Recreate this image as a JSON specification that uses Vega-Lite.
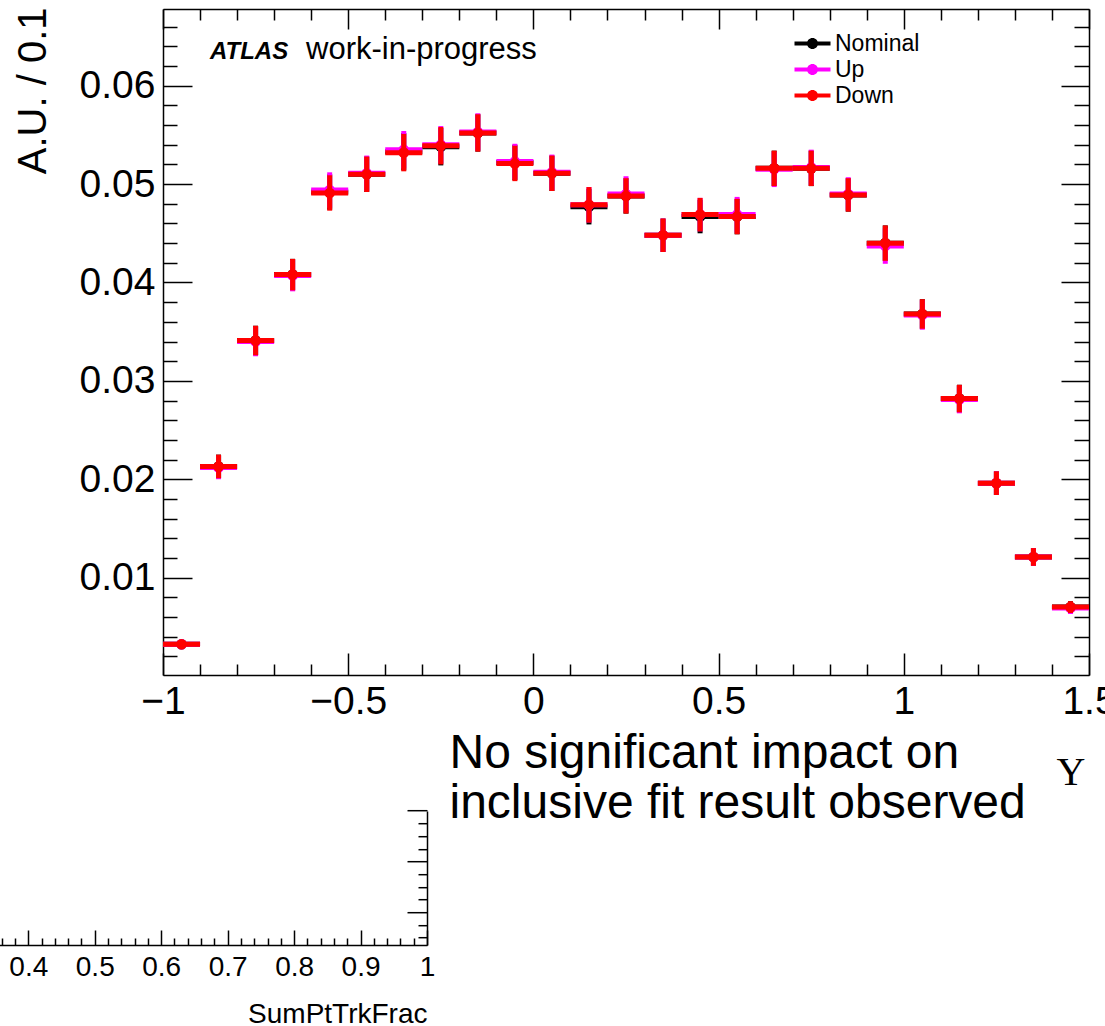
{
  "$schema": "https://vega.github.io/schema/vega-lite/v6.json",
  "width": 926,
  "height": 666,
  "autosize": {"type": "none"},
  "padding": {"left": 163, "top": 9, "right": 16, "bottom": 351},
  "background": "white",
  "config": {
    "view": {"stroke": null},
    "font": "Liberation Sans",
    "axis": {"grid": false, "domainColor": "#000", "tickColor": "#000", "domainWidth": 1.5, "tickWidth": 1.5, "labelColor": "#000", "titleColor": "#000", "labelFont": "Liberation Sans", "titleFont": "Liberation Sans", "labelFlush": false, "labelOverlap": false, "titleFontWeight": "normal"}
  },
  "datasets": {
    "h": [
      {"lo": -1.0, "hi": -0.9, "c": -0.95, "n": 0.00322, "u": 0.00322, "d": 0.00322, "e": 0.0004},
      {"lo": -0.9, "hi": -0.8, "c": -0.85, "n": 0.0213, "u": 0.0212, "d": 0.0213, "e": 0.0012},
      {"lo": -0.8, "hi": -0.7, "c": -0.75, "n": 0.0341, "u": 0.0340, "d": 0.0341, "e": 0.0015},
      {"lo": -0.7, "hi": -0.6, "c": -0.65, "n": 0.0408, "u": 0.0407, "d": 0.0408, "e": 0.0016},
      {"lo": -0.6, "hi": -0.5, "c": -0.55, "n": 0.0492, "u": 0.0494, "d": 0.0491, "e": 0.0018},
      {"lo": -0.5, "hi": -0.4, "c": -0.45, "n": 0.0510, "u": 0.0511, "d": 0.0510, "e": 0.0018},
      {"lo": -0.4, "hi": -0.3, "c": -0.35, "n": 0.0533, "u": 0.0535, "d": 0.0532, "e": 0.0019},
      {"lo": -0.3, "hi": -0.2, "c": -0.25, "n": 0.0538, "u": 0.0540, "d": 0.0539, "e": 0.0019},
      {"lo": -0.2, "hi": -0.1, "c": -0.15, "n": 0.0552, "u": 0.0553, "d": 0.0552, "e": 0.0019},
      {"lo": -0.1, "hi": 0.0, "c": -0.05, "n": 0.0522, "u": 0.0523, "d": 0.0521, "e": 0.0018},
      {"lo": 0.0, "hi": 0.1, "c": 0.05, "n": 0.0511, "u": 0.0512, "d": 0.0511, "e": 0.0018},
      {"lo": 0.1, "hi": 0.2, "c": 0.15, "n": 0.0477, "u": 0.0479, "d": 0.0479, "e": 0.0018},
      {"lo": 0.2, "hi": 0.3, "c": 0.25, "n": 0.0488, "u": 0.0490, "d": 0.0488, "e": 0.0018},
      {"lo": 0.3, "hi": 0.4, "c": 0.35, "n": 0.0448, "u": 0.0448, "d": 0.0448, "e": 0.0017},
      {"lo": 0.4, "hi": 0.5, "c": 0.45, "n": 0.0467, "u": 0.0469, "d": 0.0469, "e": 0.0017},
      {"lo": 0.5, "hi": 0.6, "c": 0.55, "n": 0.0467, "u": 0.0469, "d": 0.0467, "e": 0.0018},
      {"lo": 0.6, "hi": 0.7, "c": 0.65, "n": 0.0516, "u": 0.0515, "d": 0.0516, "e": 0.0018},
      {"lo": 0.7, "hi": 0.8, "c": 0.75, "n": 0.0516, "u": 0.0517, "d": 0.0516, "e": 0.0018},
      {"lo": 0.8, "hi": 0.9, "c": 0.85, "n": 0.0489, "u": 0.0490, "d": 0.0489, "e": 0.0017},
      {"lo": 0.9, "hi": 1.0, "c": 0.95, "n": 0.0440, "u": 0.0437, "d": 0.0440, "e": 0.0018},
      {"lo": 1.0, "hi": 1.1, "c": 1.05, "n": 0.0368, "u": 0.0367, "d": 0.0368, "e": 0.0015},
      {"lo": 1.1, "hi": 1.2, "c": 1.15, "n": 0.0282, "u": 0.0281, "d": 0.0282, "e": 0.0014},
      {"lo": 1.2, "hi": 1.3, "c": 1.25, "n": 0.0196, "u": 0.0196, "d": 0.0196, "e": 0.0012},
      {"lo": 1.3, "hi": 1.4, "c": 1.35, "n": 0.0121, "u": 0.0121, "d": 0.0121, "e": 0.0009},
      {"lo": 1.4, "hi": 1.5, "c": 1.45, "n": 0.0070, "u": 0.0069, "d": 0.0070, "e": 0.0006}
    ]
  },
  "layer": [
    {"data": {"name": "h"}, "mark": {"type": "rule", "color": "#000000", "strokeWidth": 5}, "encoding": {"x": {"field": "lo", "type": "quantitative", "scale": {"domain": [-1, 1.5], "nice": false, "zero": false}, "axis": null}, "x2": {"field": "hi"}, "y": {"field": "n", "type": "quantitative", "scale": {"domain": [0.0001, 0.0678], "nice": false, "zero": false}, "axis": null}}},
    {"data": {"name": "h"}, "mark": {"type": "errorbar", "color": "#000000", "thickness": 5}, "encoding": {"x": {"field": "c", "type": "quantitative", "scale": {"domain": [-1, 1.5], "nice": false, "zero": false}, "axis": null}, "y": {"field": "n", "type": "quantitative", "scale": {"domain": [0.0001, 0.0678], "nice": false, "zero": false}, "axis": null}, "yError": {"field": "e"}}},
    {"data": {"name": "h"}, "mark": {"type": "point", "shape": "circle", "filled": true, "size": 113, "color": "#000000", "opacity": 1}, "encoding": {"x": {"field": "c", "type": "quantitative", "scale": {"domain": [-1, 1.5], "nice": false, "zero": false}, "axis": null}, "y": {"field": "n", "type": "quantitative", "scale": {"domain": [0.0001, 0.0678], "nice": false, "zero": false}, "axis": null}}},

    {"data": {"name": "h"}, "mark": {"type": "rule", "color": "#ff00ff", "strokeWidth": 5}, "encoding": {"x": {"field": "lo", "type": "quantitative", "scale": {"domain": [-1, 1.5], "nice": false, "zero": false}, "axis": null}, "x2": {"field": "hi"}, "y": {"field": "u", "type": "quantitative", "scale": {"domain": [0.0001, 0.0678], "nice": false, "zero": false}, "axis": null}}},
    {"data": {"name": "h"}, "mark": {"type": "errorbar", "color": "#ff00ff", "thickness": 5}, "encoding": {"x": {"field": "c", "type": "quantitative", "scale": {"domain": [-1, 1.5], "nice": false, "zero": false}, "axis": null}, "y": {"field": "u", "type": "quantitative", "scale": {"domain": [0.0001, 0.0678], "nice": false, "zero": false}, "axis": null}, "yError": {"field": "e"}}},
    {"data": {"name": "h"}, "mark": {"type": "point", "shape": "circle", "filled": true, "size": 113, "color": "#ff00ff", "opacity": 1}, "encoding": {"x": {"field": "c", "type": "quantitative", "scale": {"domain": [-1, 1.5], "nice": false, "zero": false}, "axis": null}, "y": {"field": "u", "type": "quantitative", "scale": {"domain": [0.0001, 0.0678], "nice": false, "zero": false}, "axis": null}}},

    {"data": {"name": "h"}, "mark": {"type": "rule", "color": "#ff0000", "strokeWidth": 5}, "encoding": {"x": {"field": "lo", "type": "quantitative", "scale": {"domain": [-1, 1.5], "nice": false, "zero": false}, "axis": null}, "x2": {"field": "hi"}, "y": {"field": "d", "type": "quantitative", "scale": {"domain": [0.0001, 0.0678], "nice": false, "zero": false}, "axis": null}}},
    {"data": {"name": "h"}, "mark": {"type": "errorbar", "color": "#ff0000", "thickness": 5}, "encoding": {"x": {"field": "c", "type": "quantitative", "scale": {"domain": [-1, 1.5], "nice": false, "zero": false}, "axis": null}, "y": {"field": "d", "type": "quantitative", "scale": {"domain": [0.0001, 0.0678], "nice": false, "zero": false}, "axis": null}, "yError": {"field": "e"}}},
    {"data": {"name": "h"}, "mark": {"type": "point", "shape": "circle", "filled": true, "size": 113, "color": "#ff0000", "opacity": 1}, "encoding": {"x": {"field": "c", "type": "quantitative", "scale": {"domain": [-1, 1.5], "nice": false, "zero": false}, "axis": null}, "y": {"field": "d", "type": "quantitative", "scale": {"domain": [0.0001, 0.0678], "nice": false, "zero": false}, "axis": null}}},

    {"data": {"values": []}, "mark": {"type": "point", "opacity": 0}, "encoding": {"x": {"field": "v", "type": "quantitative", "scale": {"domain": [-1, 1.5], "nice": false, "zero": false}, "axis": {"orient": "bottom", "values": [-1, -0.5, 0, 0.5, 1, 1.5], "format": "~g", "tickSize": -22, "labelFontSize": 39, "labelPadding": 29, "title": "Y", "titleFont": "Liberation Serif", "titleFontSize": 40, "titleX": 922, "titleY": 109, "titleAlign": "right", "titleBaseline": "alphabetic"}}}},
    {"data": {"values": []}, "mark": {"type": "point", "opacity": 0}, "encoding": {"x": {"field": "v", "type": "quantitative", "scale": {"domain": [-1, 1.5], "nice": false, "zero": false}, "axis": {"orient": "bottom", "values": [-0.9, -0.8, -0.7, -0.6, -0.4, -0.3, -0.2, -0.1, 0.1, 0.2, 0.3, 0.4, 0.6, 0.7, 0.8, 0.9, 1.1, 1.2, 1.3, 1.4], "tickSize": -11, "labels": false, "domain": false, "title": null}}}},
    {"data": {"values": []}, "mark": {"type": "point", "opacity": 0}, "encoding": {"x": {"field": "v", "type": "quantitative", "scale": {"domain": [-1, 1.5], "nice": false, "zero": false}, "axis": {"orient": "top", "values": [-1, -0.5, 0, 0.5, 1, 1.5], "tickSize": -20, "labels": false, "title": null}}}},
    {"data": {"values": []}, "mark": {"type": "point", "opacity": 0}, "encoding": {"x": {"field": "v", "type": "quantitative", "scale": {"domain": [-1, 1.5], "nice": false, "zero": false}, "axis": {"orient": "top", "values": [-0.9, -0.8, -0.7, -0.6, -0.4, -0.3, -0.2, -0.1, 0.1, 0.2, 0.3, 0.4, 0.6, 0.7, 0.8, 0.9, 1.1, 1.2, 1.3, 1.4], "tickSize": -11, "labels": false, "domain": false, "title": null}}}},
    {"data": {"values": []}, "mark": {"type": "point", "opacity": 0}, "encoding": {"y": {"field": "v", "type": "quantitative", "scale": {"domain": [0.0001, 0.0678], "nice": false, "zero": false}, "axis": {"orient": "left", "values": [0.01, 0.02, 0.03, 0.04, 0.05, 0.06], "format": "~g", "tickSize": -29, "labelFontSize": 39, "labelPadding": 37, "title": "A.U. / 0.1", "titleFontSize": 40, "titleX": -130, "titleY": -2, "titleAlign": "right", "titleAngle": 270, "titleBaseline": "middle"}}}},
    {"data": {"values": []}, "mark": {"type": "point", "opacity": 0}, "encoding": {"y": {"field": "v", "type": "quantitative", "scale": {"domain": [0.0001, 0.0678], "nice": false, "zero": false}, "axis": {"orient": "left", "values": [0.002, 0.004, 0.006, 0.008, 0.012, 0.014, 0.016, 0.018, 0.022, 0.024, 0.026, 0.028, 0.032, 0.034, 0.036, 0.038, 0.042, 0.044, 0.046, 0.048, 0.052, 0.054, 0.056, 0.058, 0.062, 0.064, 0.066], "tickSize": -14, "labels": false, "domain": false, "title": null}}}},
    {"data": {"values": []}, "mark": {"type": "point", "opacity": 0}, "encoding": {"y": {"field": "v", "type": "quantitative", "scale": {"domain": [0.0001, 0.0678], "nice": false, "zero": false}, "axis": {"orient": "right", "values": [0.01, 0.02, 0.03, 0.04, 0.05, 0.06], "tickSize": -28, "labels": false, "title": null}}}},
    {"data": {"values": []}, "mark": {"type": "point", "opacity": 0}, "encoding": {"y": {"field": "v", "type": "quantitative", "scale": {"domain": [0.0001, 0.0678], "nice": false, "zero": false}, "axis": {"orient": "right", "values": [0.002, 0.004, 0.006, 0.008, 0.012, 0.014, 0.016, 0.018, 0.022, 0.024, 0.026, 0.028, 0.032, 0.034, 0.036, 0.038, 0.042, 0.044, 0.046, 0.048, 0.052, 0.054, 0.056, 0.058, 0.062, 0.064, 0.066], "tickSize": -15, "labels": false, "domain": false, "title": null}}}},

    {"data": {"values": []}, "mark": {"type": "point", "opacity": 0}, "encoding": {"x": {"field": "v", "type": "quantitative", "scale": {"domain": [-0.3935, 1], "nice": false, "zero": false}, "axis": {"orient": "bottom", "offset": 270, "position": -662, "values": [0.4, 0.5, 0.6, 0.7, 0.8, 0.9, 1], "format": "~g", "tickSize": -15, "labelFontSize": 28, "labelPadding": 23, "title": "SumPtTrkFrac", "titleFontSize": 28, "titleX": 926, "titleY": 77, "titleAlign": "right", "titleBaseline": "alphabetic"}}}},
    {"data": {"values": []}, "mark": {"type": "point", "opacity": 0}, "encoding": {"x": {"field": "v", "type": "quantitative", "scale": {"domain": [-0.3935, 1], "nice": false, "zero": false}, "axis": {"orient": "bottom", "offset": 270, "position": -662, "values": [0.36, 0.38, 0.42, 0.44, 0.46, 0.48, 0.52, 0.54, 0.56, 0.58, 0.62, 0.64, 0.66, 0.68, 0.72, 0.74, 0.76, 0.78, 0.82, 0.84, 0.86, 0.88, 0.92, 0.94, 0.96, 0.98], "tickSize": -7, "labels": false, "domain": false, "title": null}}}},
    {"data": {"values": []}, "mark": {"type": "point", "opacity": 0}, "encoding": {"x": {"field": "v", "type": "quantitative", "scale": {"domain": [-0.3935, 1], "nice": false, "zero": false}, "axis": {"orient": "bottom", "offset": 270, "position": -662, "values": [1], "tickSize": -134, "labels": false, "domain": false, "title": null}}}},
    {"data": {"values": []}, "mark": {"type": "point", "opacity": 0}, "encoding": {"y": {"field": "v", "type": "quantitative", "scale": {"domain": [0, 13.136], "nice": false, "zero": false}, "axis": {"orient": "left", "offset": -264, "position": 389.2, "values": [3, 4, 5], "tickSize": 20, "labels": false, "domain": false, "title": null}}}},
    {"data": {"values": []}, "mark": {"type": "point", "opacity": 0}, "encoding": {"y": {"field": "v", "type": "quantitative", "scale": {"domain": [0, 13.136], "nice": false, "zero": false}, "axis": {"orient": "left", "offset": -264, "position": 389.2, "values": [2.5, 2.75, 3.25, 3.5, 3.75, 4.25, 4.5, 4.75], "tickSize": 9, "labels": false, "domain": false, "title": null}}}},

    {"data": {"values": [{}]}, "mark": {"type": "text", "text": "ATLAS", "font": "Liberation Sans", "fontSize": 24, "fontStyle": "italic", "fontWeight": "bold", "align": "left", "baseline": "alphabetic", "color": "#000"}, "encoding": {"x": {"datum": -0.8731, "type": "quantitative", "scale": {"domain": [-1, 1.5], "nice": false, "zero": false}, "axis": null}, "y": {"datum": 0.0627, "type": "quantitative", "scale": {"domain": [0.0001, 0.0678], "nice": false, "zero": false}, "axis": null}}},
    {"data": {"values": [{}]}, "mark": {"type": "text", "text": "work-in-progress", "font": "Liberation Sans", "fontSize": 31, "align": "left", "baseline": "alphabetic", "color": "#000"}, "encoding": {"x": {"datum": -0.6139, "type": "quantitative", "scale": {"domain": [-1, 1.5], "nice": false, "zero": false}, "axis": null}, "y": {"datum": 0.0627, "type": "quantitative", "scale": {"domain": [0.0001, 0.0678], "nice": false, "zero": false}, "axis": null}}},
    {"data": {"values": [{}]}, "mark": {"type": "text", "text": "No significant impact on", "font": "Liberation Sans", "fontSize": 48, "align": "left", "baseline": "alphabetic", "color": "#000"}, "encoding": {"x": {"datum": -0.2265, "type": "quantitative", "scale": {"domain": [-1, 1.5], "nice": false, "zero": false}, "axis": null}, "y": {"datum": -0.00935, "type": "quantitative", "scale": {"domain": [0.0001, 0.0678], "nice": false, "zero": false}, "axis": null}}},
    {"data": {"values": [{}]}, "mark": {"type": "text", "text": "inclusive fit result observed", "font": "Liberation Sans", "fontSize": 48, "align": "left", "baseline": "alphabetic", "color": "#000"}, "encoding": {"x": {"datum": -0.2265, "type": "quantitative", "scale": {"domain": [-1, 1.5], "nice": false, "zero": false}, "axis": null}, "y": {"datum": -0.01443, "type": "quantitative", "scale": {"domain": [0.0001, 0.0678], "nice": false, "zero": false}, "axis": null}}},

    {"data": {"values": []}, "mark": {"type": "point", "filled": true, "opacity": 1}, "encoding": {"color": {"field": "s", "type": "nominal", "scale": {"domain": ["Nominal", "Up", "Down"], "range": ["#000000", "#ff00ff", "#ff0000"]}, "legend": {"orient": "none", "legendX": 638, "legendY": 23, "title": null, "padding": 0, "symbolType": "M-1.8,-0.2H1.8V0.2H-1.8Z M-0.55,0A0.55,0.55 0 1,1 0.55,0A0.55,0.55 0 1,1 -0.55,0Z", "symbolSize": 400, "symbolStrokeWidth": 0, "symbolOpacity": 1, "labelFontSize": 23, "labelFont": "Liberation Sans", "labelColor": "#000", "labelOffset": 11, "rowPadding": 2}}}}
  ],
  "resolve": {
    "scale": {"x": "independent", "y": "independent", "color": "independent"},
    "axis": {"x": "independent", "y": "independent"}
  }
}
